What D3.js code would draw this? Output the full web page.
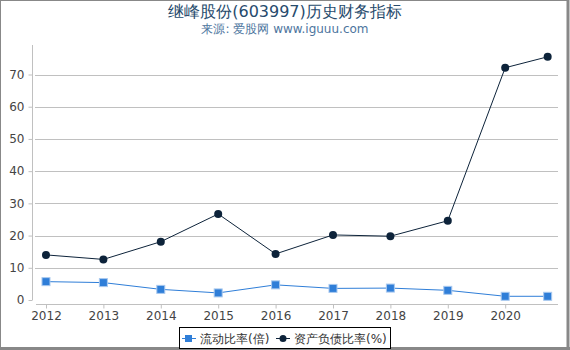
<!DOCTYPE html>
<html>
<head>
<meta charset="utf-8">
<script src="https://cdn.jsdelivr.net/npm/d3@7"></script>
<style>
  body { margin: 0; background: #fff; }
  svg { display: block; font-family: "DejaVu Sans", sans-serif; }
</style>
</head>
<body>
<svg id="chart" width="570" height="350"></svg>
<script>
// years (last point is a partial-year report)
const years = [2012, 2013, 2014, 2015, 2016, 2017, 2018, 2019, 2020, 2020.74];
const currentRatio = [5.7, 5.4, 3.3, 2.2, 4.7, 3.6, 3.7, 3.0, 1.15, 1.15];
const debtRatio = [14.0, 12.6, 18.1, 26.7, 14.3, 20.2, 19.8, 24.6, 72.1, 75.5];
const xTicks = [2012, 2013, 2014, 2015, 2016, 2017, 2018, 2019, 2020];
const yTicks = [0, 10, 20, 30, 40, 50, 60, 70];
const seriesNames = ["流动比率(倍)", "资产负债比率(%)"];

const svg = d3.select("#chart"),
    width = +svg.attr("width"),
    height = +svg.attr("height");

const x = d3.scaleLinear().domain([2011.826, 2020.92]).range([36, 558]);
const y = d3.scaleLinear().domain([0, 70]).range([300, 74.5]);

// frame
svg.append("rect").attr("x", 0.5).attr("y", 0.5).attr("width", 568).attr("height", 347)
    .attr("fill", "none").attr("stroke", "#888").attr("stroke-width", 1);
svg.append("line").attr("x1", 568).attr("x2", 568).attr("y1", 0).attr("y2", 350)
    .attr("stroke", "#888").attr("stroke-width", 3);
svg.append("line").attr("x1", 0).attr("x2", 570).attr("y1", 348.5).attr("y2", 348.5)
    .attr("stroke", "#888").attr("stroke-width", 3);

// title
svg.append("text").attr("x", 285).attr("y", 17).attr("text-anchor", "middle")
    .attr("fill", "#274b6d").style("font-size", "16px").text("继峰股份(603997)历史财务指标");
svg.append("text").attr("x", 285).attr("y", 33).attr("text-anchor", "middle")
    .attr("fill", "#4d759e").style("font-size", "12px").text("来源: 爱股网 www.iguuu.com");

// grid
svg.append("g").selectAll("line").data(yTicks.slice(1)).enter().append("line")
    .attr("x1", 35).attr("x2", 558)
    .attr("y1", d => Math.round(y(d)) + 0.5).attr("y2", d => Math.round(y(d)) + 0.5)
    .attr("stroke", "#c0c0c0").attr("stroke-width", 1);

// y axis
const yAxis = svg.append("g").attr("transform", "translate(32.5,0)")
    .call(d3.axisLeft(y).tickValues(yTicks).tickSize(4).tickPadding(4));
yAxis.select(".domain").attr("d", "M0,45V300").attr("stroke", "#c0c0c0");
yAxis.selectAll(".tick line").attr("stroke", "#c0c0c0");
yAxis.selectAll("text").attr("fill", "#444").style("font-size", "12px")
    .style("font-family", "DejaVu Sans");

// x axis
const xAxis = svg.append("g").attr("transform", "translate(0,304.5)")
    .call(d3.axisBottom(x).tickValues(xTicks).tickFormat(d3.format("d")).tickSize(4).tickPadding(3));
xAxis.select(".domain").attr("d", "M36,0H558").attr("stroke", "#c0c0c0");
xAxis.selectAll(".tick line").attr("stroke", "#c0c0c0");
xAxis.selectAll("text").attr("fill", "#444").style("font-size", "12px")
    .style("font-family", "DejaVu Sans");

const line = d3.line().x(d => x(d[0])).y(d => y(d[1]));

const cur = d3.zip(years, currentRatio);
const debt = d3.zip(years, debtRatio);

svg.append("path").datum(cur).attr("d", line)
    .attr("fill", "none").attr("stroke", "#2f7ed8").attr("stroke-width", 1);
svg.append("g").selectAll("rect").data(cur).enter().append("rect")
    .attr("x", d => x(d[0]) - 4).attr("y", d => y(d[1]) - 4)
    .attr("width", 8).attr("height", 8)
    .attr("fill", "#2f7ed8").attr("stroke", "#a9c9ef").attr("stroke-width", 1);

svg.append("path").datum(debt).attr("d", line)
    .attr("fill", "none").attr("stroke", "#0d233a").attr("stroke-width", 1);
svg.append("g").selectAll("circle").data(debt).enter().append("circle")
    .attr("cx", d => x(d[0])).attr("cy", d => y(d[1])).attr("r", 4)
    .attr("fill", "#0d233a");

// legend
const lg = svg.append("g");
lg.append("rect").attr("x", 179.5).attr("y", 327.5).attr("width", 211).attr("height", 21)
    .attr("fill", "#fff").attr("stroke", "#000").attr("stroke-width", 1);
lg.append("line").attr("x1", 182).attr("x2", 196).attr("y1", 338.5).attr("y2", 338.5)
    .attr("stroke", "#2f7ed8").attr("stroke-width", 1);
lg.append("rect").attr("x", 185).attr("y", 335).attr("width", 7).attr("height", 7).attr("fill", "#2f7ed8");
lg.append("text").attr("x", 200).attr("y", 343).attr("fill", "#333").style("font-size", "12px").text(seriesNames[0]);
lg.append("line").attr("x1", 276).attr("x2", 290).attr("y1", 338.5).attr("y2", 338.5)
    .attr("stroke", "#0d233a").attr("stroke-width", 1);
lg.append("circle").attr("cx", 283).attr("cy", 338.5).attr("r", 3.5).attr("fill", "#0d233a");
lg.append("text").attr("x", 294).attr("y", 343).attr("fill", "#333").style("font-size", "12px").text(seriesNames[1]);
</script>
</body>
</html>
